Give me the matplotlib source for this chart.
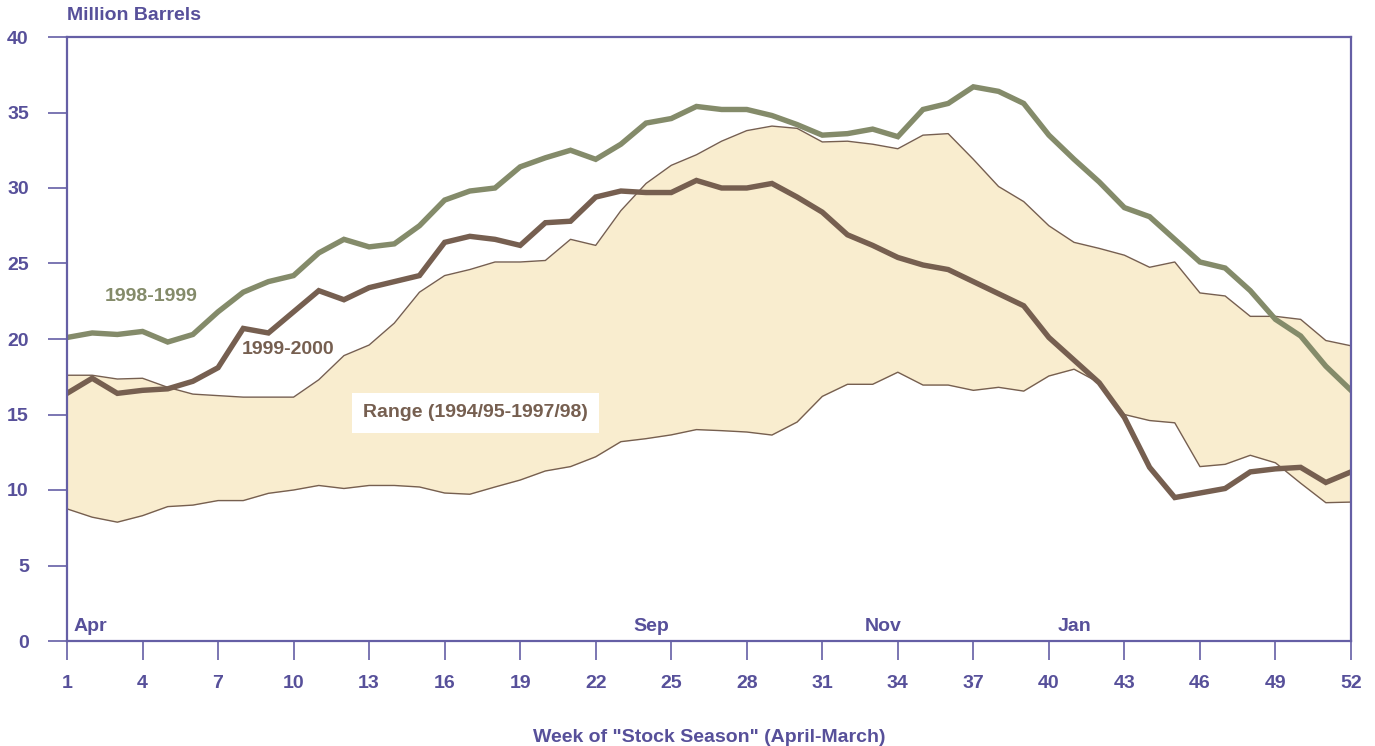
import matplotlib
matplotlib.use("Agg")
import matplotlib.pyplot as plt
import numpy as np

weeks = list(range(1, 53))

season_1998_1999 = [20.1, 20.4, 20.3, 20.5, 19.8, 20.3, 21.8, 23.1, 23.8, 24.2,
                    25.7, 26.6, 26.1, 26.3, 27.5, 29.2, 29.8, 30.0, 31.4, 32.0,
                    32.5, 31.9, 32.9, 34.3, 34.6, 35.4, 35.2, 35.2, 34.8, 34.2,
                    33.5, 33.6, 33.9, 33.4, 35.2, 35.6, 36.7, 36.4, 35.6, 33.5,
                    31.9, 30.4, 28.7, 28.1, 26.6, 25.1, 24.7, 23.2, 21.3, 20.2,
                    18.2, 16.6]

season_1999_2000 = [16.4, 17.4, 16.4, 16.6, 16.7, 17.2, 18.1, 20.7, 20.4, 21.8,
                    23.2, 22.6, 23.4, 23.8, 24.2, 26.4, 26.8, 26.6, 26.2, 27.7,
                    27.8, 29.4, 29.8, 29.7, 29.7, 30.5, 30.0, 30.0, 30.3, 29.4,
                    28.4, 26.9, 26.2, 25.4, 24.9, 24.6, 23.8, 23.0, 22.2, 20.1,
                    18.6, 17.1, 14.8, 11.5, 9.5, 9.8, 10.1, 11.2, 11.4, 11.5,
                    10.5, 11.2]

range_high = [17.6, 17.6, 17.35, 17.4, 16.8, 16.35, 16.25, 16.15, 16.15, 16.15,
              17.3, 18.9, 19.6, 21.05, 23.1, 24.2, 24.6, 25.1, 25.1, 25.2,
              26.6, 26.2, 28.5, 30.3, 31.5, 32.2, 33.1, 33.8, 34.1, 33.95,
              33.05, 33.1, 32.9, 32.6, 33.5, 33.6, 31.9, 30.1, 29.1, 27.5,
              26.4, 26.0, 25.55, 24.75, 25.1, 23.05, 22.85, 21.5, 21.5, 21.3,
              19.9, 19.55]

range_low = [8.75, 8.2, 7.87, 8.3, 8.9, 9.0, 9.3, 9.3, 9.78, 10.0,
             10.3, 10.1, 10.3, 10.3, 10.2, 9.8, 9.72, 10.2, 10.66, 11.26,
             11.55, 12.2, 13.2, 13.4, 13.65, 14.0, 13.93, 13.84, 13.64, 14.5,
             16.2, 17.0, 17.0, 17.8, 16.95, 16.95, 16.6, 16.8, 16.55, 17.55,
             18.0, 17.1, 15.0, 14.6, 14.45, 11.55, 11.7, 12.3, 11.8, 10.45,
             9.16, 9.2]

x_ticks = list(range(1, 53, 3))
y_ticks = [0, 5, 10, 15, 20, 25, 30, 35, 40]
month_labels = ["Apr", "Sep", "Nov", "Jan"]
month_pos = [1.25, 24.2, 33.4, 41.0]

PURPLE = "#57509A"
SPINE = "#655FA5"
GREEN = "#848B6A"
BROWN = "#765F50"
FILL = "#F9EDCF"

plt.rcParams['font.family'] = ['Liberation Sans', 'DejaVu Sans']
plt.rcParams['font.weight'] = 'bold'

fig = plt.figure(figsize=(13.75, 7.46), dpi=100)
ax = fig.add_axes([67/1375, 1 - 641/746, (1351-67)/1375, (641-37)/746])

ax.fill_between(weeks, range_low, range_high, color=FILL, zorder=1, linewidth=0)
ax.plot(weeks, range_high, color=BROWN, lw=1.0, zorder=2)
ax.plot(weeks, range_low, color=BROWN, lw=1.0, zorder=2)
ax.plot(weeks, season_1998_1999, color=GREEN, lw=3.9, zorder=3, solid_joinstyle='miter')
ax.plot(weeks, season_1999_2000, color=BROWN, lw=3.9, zorder=4, solid_joinstyle='miter')

ax.set_xlim(1, 52)
ax.set_ylim(0, 40)
ax.set_xticks(x_ticks)
ax.set_yticks(y_ticks)
ax.tick_params(axis='x', direction='out', length=13.5, width=1.2, color=SPINE,
               labelcolor=PURPLE, labelsize=14, pad=11)
ax.tick_params(axis='y', direction='out', length=13.5, width=1.2, color=SPINE,
               labelcolor=PURPLE, labelsize=14, pad=14)
for lbl in ax.get_xticklabels() + ax.get_yticklabels():
    lbl.set_fontweight('bold')
for s in ax.spines.values():
    s.set_color(SPINE)
    s.set_linewidth(1.6)
    s.set_zorder(5)

fig.text(709/1375, 1 - 737/746, 'Week of "Stock Season" (April-March)', color=PURPLE,
         fontsize=14, fontweight='bold', ha='center', va='center')
ax.text(0.0, 1.036, "Million Barrels", transform=ax.transAxes, color=PURPLE,
        fontsize=14, fontweight='bold', ha='left', va='center')

for name, pos in zip(month_labels, month_pos):
    ax.text(pos, 0.93, name, color=PURPLE, fontsize=14, fontweight='bold',
            ha='left' if name == "Apr" else 'center', va='center', zorder=6)

ax.text(4.35, 22.8, "1998-1999", color=GREEN, fontsize=14, fontweight='bold',
        ha='center', va='center', zorder=6)
ax.text(9.8, 19.3, "1999-2000", color=BROWN, fontsize=14, fontweight='bold',
        ha='center', va='center', zorder=6)
ax.text(17.24, 15.1, "Range (1994/95-1997/98)", color=BROWN, fontsize=14,
        fontweight='bold', ha='center', va='center', zorder=6,
        bbox=dict(facecolor='white', edgecolor='none', pad=8))

fig.savefig("out.png", dpi=100)
